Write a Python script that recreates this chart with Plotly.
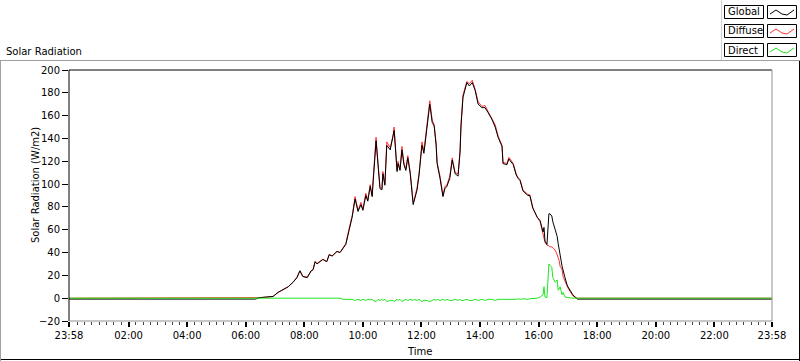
import plotly.graph_objects as go

# ---- data (minutes since 00:00; -2 == 23:58 of the previous day) ----
minutes = [-2, 380, 389, 404, 416, 426, 436, 447, 457, 465, 471, 477, 486, 494, 498, 502, 506, 512, 518, 526,
           531, 537, 543, 547, 553, 559, 565, 572, 578, 584, 590, 596, 600, 606, 610, 615, 619, 621, 627, 631,
           635, 639, 641, 645, 649, 656, 662, 664, 670, 672, 676, 680, 684, 688, 692, 697, 703, 705, 711, 715,
           721, 725, 731, 737, 742, 746, 750, 752, 758, 764, 768, 772, 778, 783, 789, 795, 799, 801, 805, 813,
           818, 824, 830, 836, 844, 850, 856, 864, 871, 877, 885, 887, 895, 899, 908, 914, 918, 922, 928, 938,
           942, 948, 957, 963, 969, 971, 973, 977, 981, 983, 987, 989, 994, 998, 1000, 1002, 1004, 1008, 1010,
           1014, 1018, 1020, 1030, 1035, 1039, 1438]

global_rad = [-0.8, -0.8, 0.5, 1, 1.5, 5, 7.5, 10, 14, 18, 24, 19, 18, 24, 25, 32, 30, 32, 34, 32,
              38, 37, 40, 41, 40, 43, 47, 60, 71, 87, 76, 82, 77, 90, 85, 98, 89, 102, 138, 117,
              96, 95, 109, 99, 134, 130, 141, 147, 111, 118, 112, 130, 117, 112, 123, 109, 82, 85, 95, 108,
              134, 127, 148, 170, 154, 151, 134, 118, 105, 89, 96, 98, 105, 121, 109, 107, 128, 151, 176, 189,
              186, 189, 182, 170, 167, 167, 163, 157, 150, 141, 133, 118, 117, 122, 117, 108, 105, 103, 94, 90,
              90, 79, 71, 68, 58, 62, 50, 47, 74, 74, 72, 67, 60, 54, 48, 41, 38, 28, 24,
              18, 12, 10, 3, 1, -0.8, -0.8]

diffuse_rad = [0, 0, 0.5, 1, 1.5, 5, 7.5, 10, 14, 18.5, 24, 19, 18.5, 24, 25, 32, 30.5, 32, 34, 32,
               38.5, 37, 40, 41, 40, 44, 48, 61.5, 72, 89, 77, 84, 78, 92, 86, 99.5, 90, 104, 141, 118,
               98, 96, 111, 100, 137, 132, 143, 150, 112, 120, 113, 133, 119, 113, 125, 110, 84, 86, 97, 109,
               137, 129, 150, 173, 156, 152, 136, 119, 107, 90, 98, 99, 107, 123, 110, 109, 129, 153, 178, 190,
               188, 191, 183, 172, 168, 169, 164, 158, 152, 142, 134, 119, 118, 123.5, 118, 109, 105.5, 104, 94.5, 91,
               90.5, 79.5, 71, 67, 55, 52, 49, 46.5, 46, 45, 45, 44, 42, 38, 36, 33, 28, 25, 19,
               15, 11, 9, 2, 1, 0, 0]

direct_rad = [0, 0, 0, 0, 0, 0, 0, 0, 0, -0.5, 0, 0, -0.5, 0, 0, 0, -0.5, 0, 0, 0,
              -0.5, 0, 0, 0, 0, -1, -1, -1.5, -1, -2, -1, -2, -1, -2, -1, -1.5, -1, -2, -3, -1,
              -2, -1, -2, -1, -3, -2, -2, -3, -1, -2, -1, -3, -2, -1, -2, -1, -2, -1, -2, -1,
              -3, -2, -2, -3, -2, -1, -2, -1, -2, -1, -2, -1, -2, -2, -1, -2, -1, -2, -2, -1,
              -2, -2, -1, -2, -1, -2, -1, -1, -2, -1, -1, -1, -1, -1.5, -1, -1, -0.5, -1, -0.5, -1,
              -0.5, -0.5, 0, 1, 3, 10, 1, 0.5, 30, 29, 27, 18, 14, 16, 7, 8, 10, 3, 5,
              1, 0.5, 0.5, 0, 0, 0, 0]

tick_vals = [-2, 120, 240, 360, 480, 600, 720, 840, 960, 1080, 1200, 1320, 1438]
tick_text = ["23:58", "02:00", "04:00", "06:00", "08:00", "10:00", "12:00",
             "14:00", "16:00", "18:00", "20:00", "22:00", "23:58"]
series_names = ["Global", "Diffuse", "Direct"]
series_colors = ["#000000", "#ff3030", "#1ee61e"]

# ---- geometry helpers (pixels -> paper) ----
W, H = 800, 361
L, R, T, B = 69, 28, 70, 40
PW, PH = W - L - R, H - T - B


def px(x):
    return (x - L) / PW


def py(y):
    return (H - B - y) / PH


FONT = "DejaVu Sans"

fig = go.Figure()
# draw order: Diffuse under Global, Direct on top
series = dict(zip(series_names, [global_rad, diffuse_rad, direct_rad]))
colors = dict(zip(series_names, series_colors))
for name in ["Diffuse", "Global", "Direct"]:
    fig.add_trace(go.Scatter(x=minutes, y=series[name], mode="lines", name=name,
                             line=dict(color=colors[name], width=1), showlegend=False))

fig.update_layout(
    width=W, height=H,
    margin=dict(l=L, r=R, t=T, b=B, pad=0),
    paper_bgcolor="white", plot_bgcolor="white",
    font=dict(family=FONT, size=10, color="black"),
    xaxis=dict(range=[-2, 1438], tickmode="array", tickvals=tick_vals, ticktext=tick_text,
               ticks="outside", ticklen=5, tickwidth=2, tickcolor="black",
               showgrid=False, zeroline=False, showline=False,
               minor=dict(tickmode="linear", tick0=0, dtick=15, ticks="outside",
                          ticklen=3, tickwidth=1, tickcolor="#444444", showgrid=False),
               tickfont=dict(family=FONT, size=10, color="black")),
    yaxis=dict(range=[-20, 200], dtick=20, tick0=0, ticks="outside", ticklen=6, tickwidth=1,
               tickcolor="black", showgrid=False, zeroline=False, showline=False,
               tickfont=dict(family=FONT, size=10, color="black")),
)

shapes = []
# plot frame: black top/left, grey right/bottom
shapes.append(dict(type="line", xref="paper", yref="paper", x0=0, x1=1, y0=1, y1=1,
                   line=dict(color="black", width=1)))
shapes.append(dict(type="line", xref="paper", yref="paper", x0=0, x1=0, y0=0, y1=1,
                   line=dict(color="black", width=1)))
shapes.append(dict(type="line", xref="paper", yref="paper", x0=1, x1=1, y0=0, y1=1,
                   line=dict(color="#909090", width=1)))
shapes.append(dict(type="line", xref="paper", yref="paper", x0=0, x1=1, y0=0, y1=0,
                   line=dict(color="#909090", width=1)))
# outer panel borders
shapes.append(dict(type="line", xref="paper", yref="paper", x0=px(0), x1=px(800), y0=py(60.5), y1=py(60.5),
                   line=dict(color="#a0a0a0", width=1)))
shapes.append(dict(type="line", xref="paper", yref="paper", x0=px(799.5), x1=px(799.5), y0=py(61), y1=py(361),
                   line=dict(color="black", width=1)))
shapes.append(dict(type="line", xref="paper", yref="paper", x0=px(0), x1=px(800), y0=py(359.5), y1=py(359.5),
                   line=dict(color="black", width=1)))
shapes.append(dict(type="line", xref="paper", yref="paper", x0=px(0.5), x1=px(0.5), y0=py(61), y1=py(361),
                   line=dict(color="#a0a0a0", width=1)))
shapes.append(dict(type="line", xref="paper", yref="paper", x0=px(721.5), x1=px(721.5), y0=py(0), y1=py(60),
                   line=dict(color="#d0d0d0", width=1)))

annotations = []
# legend boxes
leg_tops = [5, 24, 43]
for name, col, top in zip(series_names, series_colors, leg_tops):
    shapes.append(dict(type="rect", xref="paper", yref="paper", x0=px(724.5), x1=px(763.5),
                       y0=py(top + 13.5), y1=py(top + 0.5), line=dict(color="black", width=1)))
    shapes.append(dict(type="rect", xref="paper", yref="paper", x0=px(767.5), x1=px(796.5),
                       y0=py(top + 13.5), y1=py(top + 0.5), line=dict(color="black", width=1)))
    pts = [(770, top + 9), (776, top + 5), (782, top + 9), (787, top + 10), (794, top + 5)]
    path = "M " + " L ".join(f"{px(a)},{py(b)}" for a, b in pts)
    shapes.append(dict(type="path", xref="paper", yref="paper", path=path,
                       line=dict(color=col, width=1)))
    annotations.append(dict(text=name, xref="paper", yref="paper", x=px(726), y=py(top + 7),
                            xanchor="left", yanchor="middle", showarrow=False,
                            font=dict(family=FONT, size=10, color="black")))

annotations.append(dict(text="Solar Radiation", xref="paper", yref="paper", x=px(4), y=py(51),
                        xanchor="left", yanchor="middle", showarrow=False,
                        font=dict(family=FONT, size=10, color="black")))
annotations.append(dict(text="Solar Radiation (W/m2)", xref="paper", yref="paper", x=px(35), y=py(185),
                        xanchor="center", yanchor="middle", showarrow=False, textangle=-90,
                        font=dict(family=FONT, size=10, color="black")))
annotations.append(dict(text="Time", xref="paper", yref="paper", x=px(419), y=py(351),
                        xanchor="center", yanchor="middle", showarrow=False,
                        font=dict(family=FONT, size=10, color="black")))

fig.update_layout(shapes=shapes, annotations=annotations)
fig.write_html("out.html",
               config={"displayModeBar": False},
               post_script="document.body.style.margin='0';document.body.style.overflow='hidden';")
